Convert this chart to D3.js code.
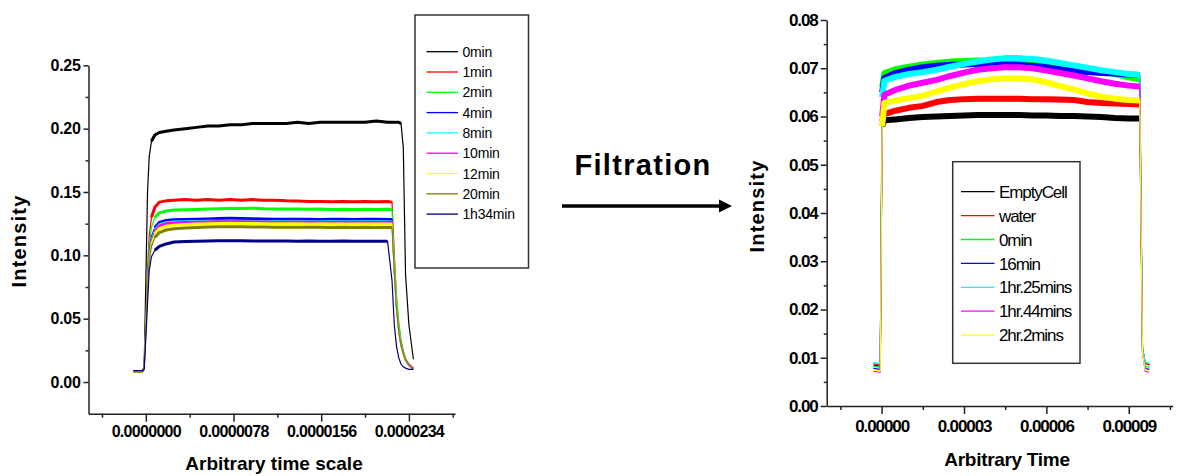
<!DOCTYPE html>
<html lang="en">
<head>
    <meta charset="UTF-8">
    <title>Intensity before and after filtration</title>
    <script src="https://d3js.org/d3.v7.min.js"></script>
    <style>
        body { margin: 0; background: #fff; }
        text { font-family: "Liberation Sans", Arial, sans-serif; fill: #000; }
        .tick-label { font-weight: bold; }
        .axis-title { font-weight: bold; }
        .axis path, .axis line { stroke: #222; stroke-width: 1.5; }
    </style>
</head>
<body>
<script>
    // ---------- left chart data (time in microseconds) ----------
    const leftTimeUs = [-1.1, -0.3, -0.15, 0, 0.15, 0.3, 0.5, 0.8, 1.2,
        1.8, 2.5, 3.5, 4.5, 5.5, 6.5, 7.5, 8.5, 9.5, 10.5, 11.5, 12.5, 13.5, 14.5, 15.5, 16.5, 17.5, 18.5, 19.5, 20.5, 21.5, 21.9,
        22.1, 22.3, 22.5, 22.7, 22.9, 23.1, 23.4, 23.8];
    const leftNames = ["0min", "1min", "2min", "4min", "8min", "10min", "12min", "20min", "1h34min"];
    const leftColors = ["#000000", "#ff0000", "#00ff00", "#0000ff", "#00ffff", "#ff00ff", "#ffff00", "#808000", "#000080"];
    const left0min = [0.009, 0.009, 0.012, 0.080, 0.150, 0.178, 0.190, 0.195, 0.197,
        0.198, 0.199, 0.200, 0.201, 0.202, 0.202, 0.203, 0.203, 0.204, 0.204, 0.204, 0.204, 0.205, 0.204, 0.205, 0.205, 0.205, 0.205, 0.205, 0.206, 0.205, 0.205,
        0.205, 0.205, 0.205, 0.204, 0.185, 0.085, 0.045, 0.018];
    const left1min = [0.009, 0.009, 0.012, 0.050, 0.090, 0.115, 0.130, 0.138, 0.142,
        0.143, 0.1435, 0.144, 0.1435, 0.144, 0.1435, 0.144, 0.1435, 0.144, 0.1435, 0.1435, 0.143, 0.1428, 0.1425, 0.1425, 0.1422, 0.1425, 0.1422, 0.1425, 0.1422, 0.1425, 0.142,
        0.100, 0.065, 0.045, 0.032, 0.024, 0.018, 0.014, 0.011];
    const left2min = [0.008, 0.008, 0.011, 0.048, 0.085, 0.108, 0.122, 0.130, 0.1335,
        0.135, 0.1358, 0.136, 0.1362, 0.1365, 0.1368, 0.137, 0.137, 0.1372, 0.1368, 0.1366, 0.1365, 0.1365, 0.1363, 0.1365, 0.1362, 0.1364, 0.1362, 0.1363, 0.1362, 0.1363, 0.1362,
        0.098, 0.068, 0.047, 0.033, 0.025, 0.019, 0.014, 0.011];
    const left4min = [0.008, 0.008, 0.011, 0.045, 0.080, 0.102, 0.115, 0.122, 0.126,
        0.1275, 0.128, 0.1282, 0.1285, 0.1287, 0.129, 0.1292, 0.129, 0.1288, 0.1287, 0.1285, 0.1285, 0.1284, 0.1285, 0.1283, 0.1285, 0.1284, 0.1283, 0.1285, 0.1284, 0.1283, 0.1282,
        0.088, 0.058, 0.040, 0.029, 0.022, 0.017, 0.013, 0.010];
    const left8min = [0.008, 0.008, 0.010, 0.044, 0.078, 0.100, 0.113, 0.120, 0.124,
        0.1258, 0.1263, 0.1266, 0.1268, 0.127, 0.127, 0.1272, 0.127, 0.1268, 0.1268, 0.1267, 0.1266, 0.1266, 0.1265, 0.1266, 0.1265, 0.1266, 0.1265, 0.1265, 0.1266, 0.1265, 0.1264,
        0.090, 0.060, 0.041, 0.030, 0.023, 0.017, 0.013, 0.010];
    const left10min = [0.008, 0.008, 0.010, 0.043, 0.077, 0.099, 0.112, 0.119, 0.123,
        0.125, 0.1256, 0.126, 0.1262, 0.1264, 0.1265, 0.1266, 0.1265, 0.1264, 0.1263, 0.1262, 0.1262, 0.1261, 0.1262, 0.1261, 0.126, 0.1261, 0.126, 0.1261, 0.126, 0.1261, 0.126,
        0.089, 0.059, 0.041, 0.030, 0.023, 0.018, 0.014, 0.011];
    const left12min = [0.008, 0.008, 0.010, 0.042, 0.076, 0.097, 0.110, 0.117, 0.121,
        0.123, 0.1238, 0.1243, 0.1247, 0.125, 0.1252, 0.1253, 0.1252, 0.1251, 0.125, 0.125, 0.1249, 0.1249, 0.1248, 0.1249, 0.1248, 0.1248, 0.1247, 0.1248, 0.1247, 0.1248, 0.1246,
        0.088, 0.058, 0.040, 0.029, 0.022, 0.017, 0.013, 0.010];
    const left20min = [0.008, 0.008, 0.010, 0.041, 0.074, 0.095, 0.107, 0.114, 0.118,
        0.120, 0.121, 0.1215, 0.122, 0.1223, 0.1225, 0.1226, 0.1225, 0.1224, 0.1223, 0.1222, 0.1222, 0.1221, 0.1222, 0.1221, 0.122, 0.1221, 0.122, 0.1221, 0.122, 0.122, 0.1219,
        0.086, 0.057, 0.039, 0.029, 0.022, 0.017, 0.013, 0.010];
    const left1h34min = [0.009, 0.009, 0.010, 0.035, 0.062, 0.088, 0.099, 0.104, 0.107,
        0.109, 0.1105, 0.111, 0.1112, 0.1114, 0.1115, 0.1116, 0.1115, 0.1114, 0.1114, 0.1113, 0.1113, 0.1112, 0.1113, 0.1112, 0.1112, 0.1113, 0.1112, 0.1112, 0.1111, 0.1111, 0.080,
        0.045, 0.028, 0.019, 0.014, 0.012, 0.011, 0.010, 0.010];
    const leftSeries = [left0min, left1min, left2min, left4min, left8min, left10min, left12min, left20min, left1h34min];
    const leftXTicks = [0, 7.8, 15.6, 23.4];
    const leftXMinor = [-3.9, 3.9, 11.7, 19.5, 27.3];
    const leftYTicks = [0, 0.05, 0.10, 0.15, 0.20, 0.25];
    const leftYMinor = [0.025, 0.075, 0.125, 0.175, 0.225];

    // ---------- right chart data (time in units of 1e-5) ----------
    const rightTime = [-0.3, -0.05, 0.02, 0.1, 0.5, 1, 1.5, 2, 2.5, 3, 3.5, 4, 4.5, 5, 5.5, 6, 6.5, 7, 7.5, 8, 8.5, 9, 9.4, 9.5, 9.6, 9.75];
    const rightNames = ["EmptyCell", "water", "0min", "16min", "1hr.25mins", "1hr.44mins", "2hr.2mins"];
    const rightColors = ["#000000", "#ff0000", "#00ff00", "#0000ff", "#00ffff", "#ff00ff", "#ffff00"];
    const rEmptyCell = [0.0085, 0.0082, 0.058, 0.0592, 0.0594, 0.0597, 0.0599, 0.0600, 0.0601, 0.0602, 0.0603, 0.0603, 0.0603, 0.0603, 0.0602, 0.0602, 0.0601, 0.0601, 0.0600, 0.0599, 0.0597, 0.0596, 0.0596, 0.012, 0.009, 0.0085];
    const rWater = [0.0088, 0.0085, 0.059, 0.0605, 0.0612, 0.0618, 0.0622, 0.0630, 0.0634, 0.0636, 0.0637, 0.0637, 0.0637, 0.0637, 0.0636, 0.0636, 0.0635, 0.0634, 0.0630, 0.0628, 0.0627, 0.0626, 0.0625, 0.012, 0.0088, 0.0085];
    const r0min = [0.0082, 0.0080, 0.066, 0.0690, 0.0698, 0.0703, 0.0708, 0.0711, 0.0714, 0.0715, 0.0716, 0.0716, 0.0716, 0.0715, 0.0713, 0.0710, 0.0706, 0.0702, 0.0698, 0.0693, 0.0688, 0.0681, 0.0677, 0.012, 0.0082, 0.0080];
    const r16min = [0.0078, 0.0076, 0.065, 0.0680, 0.0690, 0.0697, 0.0702, 0.0705, 0.0707, 0.0708, 0.0709, 0.0709, 0.0708, 0.0707, 0.0705, 0.0702, 0.0698, 0.0694, 0.0692, 0.0690, 0.0689, 0.0687, 0.0686, 0.011, 0.0078, 0.0076];
    const r1hr25 = [0.0090, 0.0088, 0.064, 0.0674, 0.0682, 0.0688, 0.0692, 0.0697, 0.0703, 0.0709, 0.0714, 0.0718, 0.0721, 0.0721, 0.0719, 0.0716, 0.0711, 0.0706, 0.0701, 0.0696, 0.0692, 0.0688, 0.0686, 0.012, 0.0090, 0.0088];
    const r1hr44 = [0.0072, 0.0070, 0.060, 0.0645, 0.0655, 0.0664, 0.0670, 0.0676, 0.0684, 0.0691, 0.0697, 0.0700, 0.0702, 0.0702, 0.0700, 0.0695, 0.0690, 0.0685, 0.0679, 0.0673, 0.0668, 0.0664, 0.0662, 0.011, 0.0072, 0.0070];
    const r2hr2 = [0.0075, 0.0072, 0.058, 0.0628, 0.0633, 0.0638, 0.0643, 0.0652, 0.0660, 0.0667, 0.0673, 0.0677, 0.0679, 0.0679, 0.0677, 0.0671, 0.0663, 0.0656, 0.0648, 0.0641, 0.0637, 0.0634, 0.0633, 0.011, 0.0075, 0.0072];
    const rightSeries = [rEmptyCell, rWater, r0min, r16min, r1hr25, r1hr44, r2hr2];
    const rightXTicks = [0, 3, 6, 9];
    const rightXMinor = [-1.5, 1.5, 4.5, 7.5, 10.5];
    const rightYTicks = [0, 0.01, 0.02, 0.03, 0.04, 0.05, 0.06, 0.07, 0.08];
    const rightYMinor = [0.005, 0.015, 0.025, 0.035, 0.045, 0.055, 0.065, 0.075];

    const width = 1178, height = 476;
    const svg = d3.select("body").append("svg")
        .attr("width", width)
        .attr("height", height);

    function drawPanel(cfg) {
        const x = d3.scaleLinear().domain(cfg.xDomain).range(cfg.xRange);
        const y = d3.scaleLinear().domain(cfg.yDomain).range(cfg.yRange);
        const g = svg.append("g");

        // series: thin full trace plus a thicker band over the noisy plateau
        cfg.series.forEach((vals, i) => {
            const pts = cfg.time.map((t, k) => ({t: t, v: vals[k]}));
            const vmax = d3.max(vals);
            const line = d3.line().x(d => x(d.t)).y(d => y(d.v));
            g.append("path")
                .attr("d", line(pts))
                .attr("fill", "none")
                .attr("stroke", cfg.colors[i])
                .attr("stroke-width", 1.2);
            const band = d3.line().defined(d => d.v >= cfg.bandRatio * vmax)
                .x(d => x(d.t)).y(d => y(d.v));
            g.append("path")
                .attr("d", band(pts))
                .attr("fill", "none")
                .attr("stroke", cfg.colors[i])
                .attr("stroke-width", cfg.bandWidth)
                .attr("stroke-linejoin", "round");
        });

        // axes
        const yBase = cfg.yRange[0];
        const xAxis = g.append("g").attr("class", "axis")
            .attr("transform", `translate(0,${yBase})`)
            .call(d3.axisBottom(x).tickValues(cfg.xTicks).tickSize(8).tickSizeOuter(0)
                .tickPadding(cfg.xPad).tickFormat(cfg.xFormat));
        g.append("g").attr("class", "axis")
            .attr("transform", `translate(0,${yBase})`)
            .call(d3.axisBottom(x).tickValues(cfg.xMinor).tickSize(4).tickSizeOuter(0).tickFormat(""))
            .select(".domain").remove();
        xAxis.selectAll("text")
            .attr("class", "tick-label")
            .style("font-size", cfg.xFont + "px")
            .style("letter-spacing", cfg.xSpacing + "px");

        const xLeft = cfg.xRange[0];
        const yAxis = g.append("g").attr("class", "axis")
            .attr("transform", `translate(${xLeft},0)`)
            .call(d3.axisLeft(y).tickValues(cfg.yTicks).tickSize(cfg.yTick).tickSizeOuter(0)
                .tickPadding(cfg.yPad).tickFormat(d3.format(".2f")));
        g.append("g").attr("class", "axis")
            .attr("transform", `translate(${xLeft},0)`)
            .call(d3.axisLeft(y).tickValues(cfg.yMinor).tickSize(3).tickSizeOuter(0).tickFormat(""))
            .select(".domain").remove();
        yAxis.selectAll("text")
            .attr("class", "tick-label")
            .style("font-size", cfg.yFont + "px")
            .style("letter-spacing", cfg.ySpacing + "px");

        // titles
        g.append("text")
            .attr("class", "axis-title")
            .attr("x", cfg.xTitle[0]).attr("y", cfg.xTitle[1])
            .attr("text-anchor", "middle")
            .style("font-size", "19px")
            .style("letter-spacing", cfg.xTitleSpacing + "px")
            .text(cfg.xLabel);
        g.append("text")
            .attr("class", "axis-title")
            .attr("transform", `translate(${cfg.yTitle[0]},${cfg.yTitle[1]}) rotate(-90)`)
            .attr("text-anchor", "middle")
            .style("font-size", "20px")
            .style("letter-spacing", "1.2px")
            .text("Intensity");

        // legend
        const lg = cfg.legend;
        g.append("rect")
            .attr("x", lg.x).attr("y", lg.y)
            .attr("width", lg.w).attr("height", lg.h)
            .attr("fill", "#fff")
            .attr("stroke", "#333")
            .attr("stroke-width", 1.5);
        cfg.names.forEach((name, i) => {
            const cy = lg.firstRow + i * lg.step;
            g.append("line")
                .attr("x1", lg.lineX[0]).attr("x2", lg.lineX[1])
                .attr("y1", cy).attr("y2", cy)
                .attr("stroke", cfg.colors[i])
                .attr("stroke-width", 1.3);
            g.append("text")
                .attr("x", lg.textX).attr("y", cy + lg.font * 0.36)
                .style("font-size", lg.font + "px")
                .style("letter-spacing", lg.spacing + "px")
                .text(name);
        });
    }

    drawPanel({
        time: leftTimeUs, series: leftSeries, colors: leftColors, names: leftNames,
        xDomain: [-5.1, 27.5], xRange: [88.5, 455],
        yDomain: [-0.025, 0.25], yRange: [413.7, 65.3],
        xTicks: leftXTicks, xMinor: leftXMinor, yTicks: leftYTicks, yMinor: leftYMinor,
        xFormat: d => d3.format(".7f")(d * 1e-6), xPad: 4, xFont: 16, xSpacing: -0.7,
        yTick: 5, yPad: 3, yFont: 16, ySpacing: -0.3,
        bandRatio: 0.9, bandWidth: 3,
        xLabel: "Arbitrary time scale", xTitle: [274, 470], xTitleSpacing: 0,
        yTitle: [26, 241],
        legend: {x: 415, y: 15, w: 113.5, h: 253, firstRow: 51.7, step: 20.3,
            lineX: [426.5, 458], textX: 462.5, font: 14, spacing: -0.2}
    });

    drawPanel({
        time: rightTime, series: rightSeries, colors: rightColors, names: rightNames,
        xDomain: [-2, 10.6], xRange: [826.7, 1172.7],
        yDomain: [0, 0.08], yRange: [406, 20],
        xTicks: rightXTicks, xMinor: rightXMinor, yTicks: rightYTicks, yMinor: rightYMinor,
        xFormat: d => d3.format(".5f")(d * 1e-5), xPad: 6, xFont: 17, xSpacing: -1.1,
        yTick: 6, yPad: 3, yFont: 17, ySpacing: -1.1,
        bandRatio: 0.85, bandWidth: 6,
        xLabel: "Arbitrary Time", xTitle: [1007, 466], xTitleSpacing: -0.3,
        yTitle: [764, 206],
        legend: {x: 952.7, y: 161.7, w: 127.3, h: 201.6, firstRow: 191.7, step: 23.9,
            lineX: [961, 994.5], textX: 999, font: 17, spacing: -1.1}
    });

    // filtration annotation
    svg.append("text")
        .attr("x", 643).attr("y", 175)
        .attr("text-anchor", "middle")
        .style("font-size", "29px")
        .style("font-weight", "bold")
        .style("letter-spacing", "1.3px")
        .text("Filtration");
    svg.append("line")
        .attr("x1", 562).attr("x2", 722)
        .attr("y1", 206).attr("y2", 206)
        .attr("stroke", "#000")
        .attr("stroke-width", 3.5);
    svg.append("path")
        .attr("d", "M719,199.5 L732,206 L719,212.5 Z")
        .attr("fill", "#000");
</script>
</body>
</html>
